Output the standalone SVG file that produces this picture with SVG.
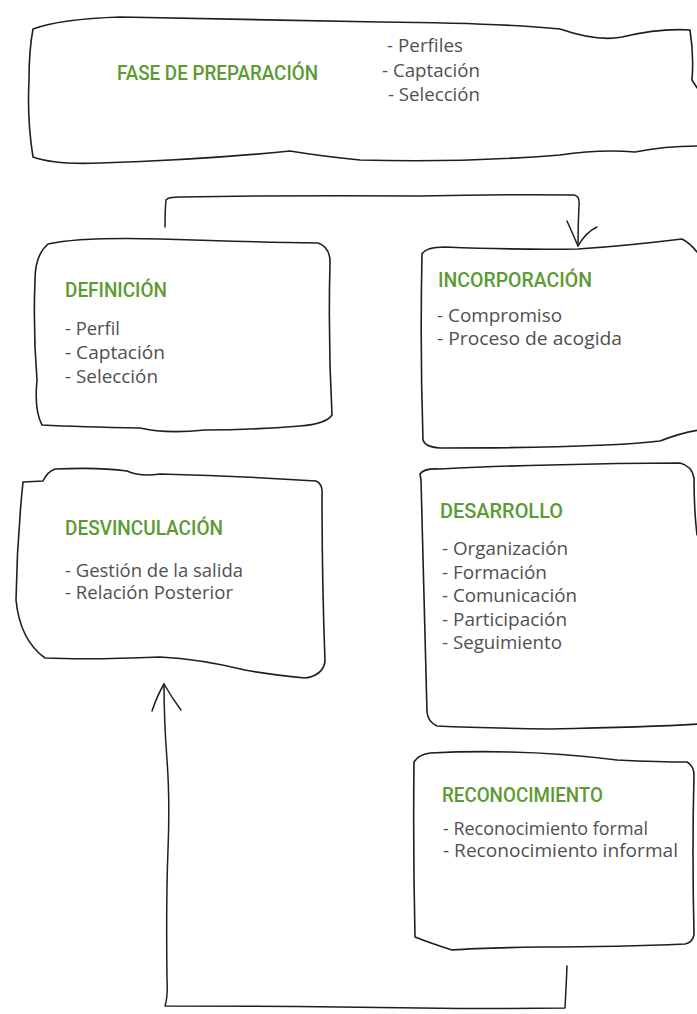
<svg xmlns="http://www.w3.org/2000/svg" width="697" height="1014" viewBox="0 0 697 1014">
<style>
.box{fill:#fff;stroke:#1e1e1e;stroke-width:1.6;stroke-linejoin:round;stroke-linecap:round}
.conn{fill:none;stroke:#1e1e1e;stroke-width:1.5;stroke-linejoin:round;stroke-linecap:round}
.t{font-family:Roboto,"Liberation Sans",sans-serif;font-size:21px;font-weight:500;fill:#5c9a32}
.i{font-family:"Open Sans","Liberation Sans",sans-serif;font-size:18px;fill:#505050}
</style>
<rect width="697" height="1014" fill="#fff"/>
<g id="fase">
<path class="box" d="M33 29 Q60 19 120 17 Q250 20 380 22 Q500 23 560 29 Q598 42 622 37 Q660 28 690 30 Q694 55 692 80 Q697 88 699 90 L699 146 Q665 146 635 152 Q600 149 560 155 Q460 163 360 160 Q320 156 290 151 Q200 160 100 163 Q55 165 33 157 Q27 120 29 80 Q29 50 33 29 Z"/>
<text class="t" x="117" y="80" textLength="201" lengthAdjust="spacingAndGlyphs">FASE DE PREPARACIÓN</text>
<text class="i" x="387" y="52" textLength="76" lengthAdjust="spacingAndGlyphs">- Perfiles</text>
<text class="i" x="382" y="77" textLength="98" lengthAdjust="spacingAndGlyphs">- Captación</text>
<text class="i" x="388" y="101" textLength="92" lengthAdjust="spacingAndGlyphs">- Selección</text>
</g>
<g id="definicion">
<path class="box" d="M48 244 Q80 237 160 239 Q250 242 318 243 Q330 247 330 262 Q328 340 332 415 Q326 424 300 426 Q250 430 205 430 Q165 434 140 428 Q80 427 42 425 Q34 410 37 380 Q33 330 35 280 Q35 255 48 244 Z"/>
<text class="t" x="65" y="297" textLength="102" lengthAdjust="spacingAndGlyphs">DEFINICIÓN</text>
<text class="i" x="65" y="335" textLength="55" lengthAdjust="spacingAndGlyphs">- Perfil</text>
<text class="i" x="65" y="359" textLength="100" lengthAdjust="spacingAndGlyphs">- Captación</text>
<text class="i" x="65" y="383" textLength="93" lengthAdjust="spacingAndGlyphs">- Selección</text>
</g>
<g id="incorporacion">
<path class="box" d="M422 254 Q426 247 445 247 Q520 250 578 249 Q625 246 682 239 Q690 243 697 252 L699 252 L699 430 Q680 433 660 441 Q600 448 440 448 Q425 447 423 440 Q420 350 422 254 Z"/>
<text class="t" x="438" y="287" textLength="154" lengthAdjust="spacingAndGlyphs">INCORPORACIÓN</text>
<text class="i" x="437" y="322" textLength="125" lengthAdjust="spacingAndGlyphs">- Compromiso</text>
<text class="i" x="437" y="345" textLength="185" lengthAdjust="spacingAndGlyphs">- Proceso de acogida</text>
</g>
<g id="desvinculacion">
<path class="box" d="M23 482 L43 481 Q47 472 55 469 Q100 467 127 471 Q140 477 160 474 Q240 476 316 481 Q323 484 322 495 Q322 580 325 662 Q322 676 305 678 Q272 675 245 670 Q200 659 160 657 Q90 660 45 658 Q20 640 16 600 Q17 540 23 482 Z"/>
<text class="t" x="65" y="535" textLength="158" lengthAdjust="spacingAndGlyphs">DESVINCULACIÓN</text>
<text class="i" x="65" y="577" textLength="178" lengthAdjust="spacingAndGlyphs">- Gestión de la salida</text>
<text class="i" x="65" y="599" textLength="168" lengthAdjust="spacingAndGlyphs">- Relación Posterior</text>
</g>
<g id="desarrollo">
<path class="box" d="M420 474 Q424 468 440 469 Q500 466 550 465 Q620 463 680 463 Q692 466 694 478 Q694 510 697 535 L699 535 L699 724 Q650 727 550 729 Q480 728 437 726 Q428 722 427 712 Q424 600 421 480 Z"/>
<text class="t" x="440" y="518" textLength="123" lengthAdjust="spacingAndGlyphs">DESARROLLO</text>
<text class="i" x="442" y="555" textLength="126" lengthAdjust="spacingAndGlyphs">- Organización</text>
<text class="i" x="442" y="578.5" textLength="105" lengthAdjust="spacingAndGlyphs">- Formación</text>
<text class="i" x="442" y="602" textLength="135" lengthAdjust="spacingAndGlyphs">- Comunicación</text>
<text class="i" x="442" y="625.5" textLength="125" lengthAdjust="spacingAndGlyphs">- Participación</text>
<text class="i" x="442" y="649" textLength="120" lengthAdjust="spacingAndGlyphs">- Seguimiento</text>
</g>
<g id="reconocimiento">
<path class="box" d="M414 762 Q418 755 430 753 Q470 751 510 752 Q560 753 617 760 Q660 762 687 762 Q694 766 694 775 Q692 850 694 935 Q692 943 685 944 Q620 947 540 947 Q480 948 452 950 Q430 943 415 937 Q413 850 414 762 Z"/>
<text class="t" x="442" y="802" textLength="161" lengthAdjust="spacingAndGlyphs">RECONOCIMIENTO</text>
<text class="i" x="443" y="835" textLength="205" lengthAdjust="spacingAndGlyphs">- Reconocimiento formal</text>
<text class="i" x="443" y="857" textLength="235" lengthAdjust="spacingAndGlyphs">- Reconocimiento informal</text>
</g>
<g id="connectors">
<path class="conn" d="M165 227 Q165 210 166 200 Q168 197 180 197 Q300 195 420 196 Q500 194 574 195 Q580 196 579 205 Q578 225 578 246"/>
<path class="conn" d="M567 221 Q572 232 578 246 Q586 232 597 227"/>
<path class="conn" d="M567 966 Q566 990 565 1008 Q500 1009 420 1008 Q300 1006 165 1006 Q168 996 167 980 Q166 900 168 850 Q170 800 167 760 Q164 720 164 684"/>
<path class="conn" d="M152 711 Q157 696 164 684 Q172 698 181 710"/>
</g>
</svg>
